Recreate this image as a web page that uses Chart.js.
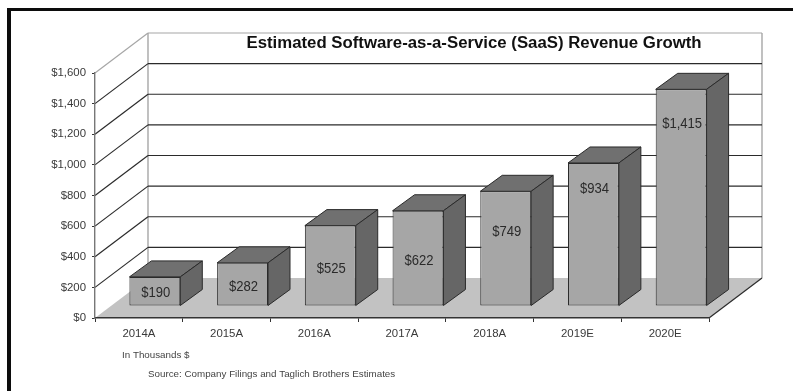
<!DOCTYPE html>
<html>
<head>
<meta charset="utf-8">
<title>SaaS Revenue Growth</title>
<script src="https://cdn.jsdelivr.net/npm/chart.js@4/dist/chart.umd.min.js"></script>
<style>
  html, body { margin: 0; padding: 0; background: #fff; overflow: hidden; }
  canvas { display: block; }
</style>
</head>
<body>
<canvas id="chartSaas" width="793" height="391"></canvas>
<script>
// ── Data ──────────────────────────────────────────────────────
const years = ['2014A', '2015A', '2016A', '2017A', '2018A', '2019E', '2020E'];
const revenue = [190, 282, 525, 622, 749, 934, 1415];
const revenueLabels = ['$190', '$282', '$525', '$622', '$749', '$934', '$1,415'];
const yTickLabels = ['$0', '$200', '$400', '$600', '$800', '$1,000', '$1,200', '$1,400', '$1,600'];

// ── Layout of the fake 3D box ─────────────────────────────────
const FONT = '"Liberation Sans", Arial, sans-serif';
const WALL = { dx: 53, dy: 40 };    // back wall offset from the front plane
const BAR_SHIFT = { dx: 16, dy: 12 }; // bars stand a bit inside the floor
const BAR_DEPTH = { dx: 22, dy: 16 };
// how far below the bar top each value label sits
const labelDrop = [16, 24, 43, 50, 41, 26, 35];

function poly(ctx, pts, fill, stroke) {
  ctx.beginPath();
  pts.forEach((p, i) => (i ? ctx.lineTo(p[0], p[1]) : ctx.moveTo(p[0], p[1])));
  ctx.closePath();
  if (fill) { ctx.fillStyle = fill; ctx.fill(); }
  if (stroke) { ctx.strokeStyle = stroke; ctx.lineWidth = 1; ctx.stroke(); }
}

function line(ctx, x1, y1, x2, y2, color, width) {
  ctx.beginPath();
  ctx.moveTo(x1, y1);
  ctx.lineTo(x2, y2);
  ctx.strokeStyle = color;
  ctx.lineWidth = width;
  ctx.stroke();
}

// ── Box behind the bars: frame, floor, walls, grid ────────────
const boxPlugin = {
  id: 'box3d',
  beforeDraw(chart) {
    const { ctx, chartArea: a, scales } = chart;
    const bx = a.left + WALL.dx;
    const rx = a.right + WALL.dx;
    const zero = scales.y.getPixelForValue(0);
    const top = scales.y.getPixelForValue(1600);
    ctx.save();

    // page frame, open on the right and at the bottom
    ctx.fillStyle = '#0c0c0c';
    ctx.fillRect(7, 8, 786, 3);
    ctx.fillRect(7, 8, 4, 383);

    poly(ctx, [[a.left, zero], [bx, zero - WALL.dy], [rx, zero - WALL.dy], [a.right, zero]], '#c2c2c2');

    line(ctx, a.left, top, bx, top - WALL.dy, '#a6a6a6', 1.2);
    line(ctx, bx, top - WALL.dy, rx, top - WALL.dy, '#a6a6a6', 1.2);
    line(ctx, bx, top - WALL.dy, bx, zero - WALL.dy, '#a6a6a6', 1.4);
    line(ctx, rx, top - WALL.dy, rx, zero - WALL.dy, '#a6a6a6', 1.4);

    scales.y.ticks.forEach(t => {
      if (t.value === 0 || t.value === 1600) return;
      const y = scales.y.getPixelForValue(t.value);
      line(ctx, a.left, y, bx, y - WALL.dy, '#2b2b2b', 1.2);
      line(ctx, bx, y - WALL.dy, rx, y - WALL.dy, '#2b2b2b', 1.2);
    });

    line(ctx, a.right, zero, rx, zero - WALL.dy, '#2b2b2b', 1.2);
    ctx.restore();
  },

  // top and side faces go first, the library then paints the front faces
  beforeDatasetDraw(chart, args) {
    const { ctx } = chart;
    ctx.save();
    ctx.translate(BAR_SHIFT.dx, -BAR_SHIFT.dy);
    const d = BAR_DEPTH;
    chart.getDatasetMeta(args.index).data.forEach(bar => {
      const l = bar.x - bar.width / 2;
      const r = bar.x + bar.width / 2;
      poly(ctx, [[l, bar.y], [l + d.dx, bar.y - d.dy], [r + d.dx, bar.y - d.dy], [r, bar.y]], '#707070', '#2a2a2a');
      poly(ctx, [[r, bar.y], [r + d.dx, bar.y - d.dy], [r + d.dx, bar.base - d.dy], [r, bar.base]], '#666666', '#2a2a2a');
    });
  },
  afterDatasetDraw(chart) {
    chart.ctx.restore();
  },

  // ── Texts ───────────────────────────────────────────────────
  afterDraw(chart) {
    const { ctx } = chart;
    ctx.save();
    ctx.textBaseline = 'middle';

    // value labels are tall and narrow, so squeeze them a little
    ctx.textAlign = 'center';
    ctx.fillStyle = '#2a2a2a';
    ctx.font = '14.5px ' + FONT;
    chart.getDatasetMeta(0).data.forEach((bar, i) => {
      const txt = revenueLabels[i];
      ctx.fillText(txt, bar.x + BAR_SHIFT.dx + 1, bar.y - BAR_SHIFT.dy + labelDrop[i], ctx.measureText(txt).width * 0.9);
    });

    ctx.fillStyle = '#111';
    ctx.font = 'bold 16.8px ' + FONT;
    ctx.fillText('Estimated Software-as-a-Service (SaaS) Revenue Growth', 474, 43);

    ctx.textAlign = 'left';
    ctx.fillStyle = '#444';
    ctx.font = '9.8px ' + FONT;
    ctx.fillText('In Thousands $', 122, 355);
    ctx.fillText('Source: Company Filings and Taglich Brothers Estimates', 148, 374);
    ctx.restore();
  }
};

// ── Chart ─────────────────────────────────────────────────────
const chartSaas = new Chart(document.getElementById('chartSaas').getContext('2d'), {
  type: 'bar',
  data: {
    labels: years,
    datasets: [{
      data: revenue,
      backgroundColor: '#a6a6a6',
      borderColor: '#2a2a2a',
      borderWidth: 1,
      borderSkipped: false,
      categoryPercentage: 1,
      barPercentage: 0.58,
      clip: false
    }]
  },
  options: {
    responsive: false,
    animation: false,
    layout: { padding: { top: 73, right: 84, left: 0, bottom: 0 } },
    plugins: { legend: { display: false }, tooltip: { enabled: false } },
    scales: {
      x: {
        afterFit: s => { s.height = 73; },
        grid: { offset: true, drawOnChartArea: false, tickLength: 4, color: '#333' },
        border: { color: '#333', width: 1.4 },
        ticks: { color: '#3a3a3a', padding: 5, maxRotation: 0, font: { family: FONT, size: 11.4 } }
      },
      y: {
        min: 0,
        max: 1600,
        afterFit: s => { s.width = 95; },
        grid: { drawOnChartArea: false, tickLength: 3, color: '#333' },
        border: { color: '#777', width: 1.4 },
        ticks: {
          stepSize: 200,
          color: '#3a3a3a',
          padding: 6,
          font: { family: FONT, size: 11.4 },
          callback: (v, i) => yTickLabels[i]
        }
      }
    }
  },
  plugins: [boxPlugin]
});
</script>
</body>
</html>
